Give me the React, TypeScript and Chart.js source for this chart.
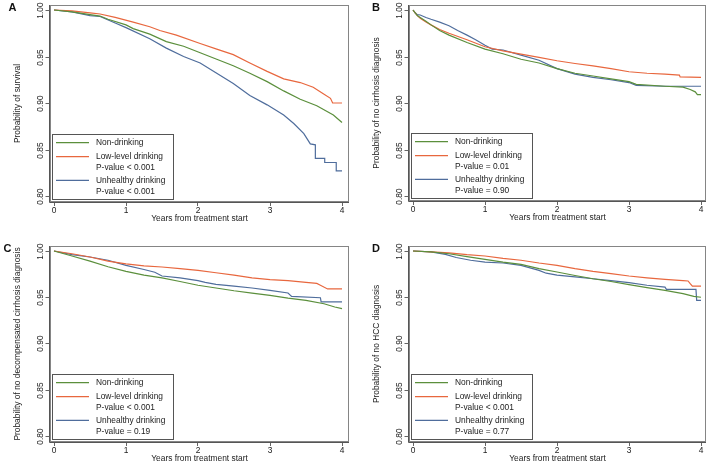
import React, { useEffect, useRef } from "react";
import { Chart, registerables } from "chart.js";
Chart.register(...registerables);

type Pt = [number, number];

const groupNames = ["Non-drinking", "Low-level drinking", "Unhealthy drinking"];
const groupColors = ["#5b8f3c", "#e8673e", "#4f6d9c"];
const xTickValues = [0, 1, 2, 3, 4];
const yTickValues = [0.8, 0.85, 0.9, 0.95, 1.0];
const yTickLabels = ["0.80", "0.85", "0.90", "0.95", "1.00"];
const xTitle = "Years from treatment start";
const panelLetters = ["A", "B", "C", "D"];
const yTitles = [
  "Probability of survival",
  "Probability of no cirrhosis diagnosis",
  "Probability of no decompensated cirrhosis diagnosis",
  "Probability of no HCC diagnosis",
];
const lowPValues = ["P-value < 0.001", "P-value = 0.01", "P-value < 0.001", "P-value < 0.001"];
const unhPValues = ["P-value < 0.001", "P-value = 0.90", "P-value = 0.19", "P-value = 0.77"];

// Panel A: survival
const survA_non: Pt[] = [[0,1],[0.25,0.998],[0.5,0.995],[0.64,0.9935],[0.75,0.99],[1,0.984],[1.1,0.98],[1.33,0.974],[1.56,0.966],[1.8,0.961],[2.03,0.954],[2.26,0.947],[2.49,0.94],[2.72,0.932],[2.96,0.923],[3.19,0.913],[3.42,0.904],[3.65,0.897],[3.88,0.887],[4,0.879]];
const survA_low: Pt[] = [[0,1],[0.25,0.999],[0.5,0.997],[0.64,0.9957],[0.85,0.992],[1.1,0.987],[1.33,0.982],[1.47,0.978],[1.7,0.973],[2.03,0.964],[2.26,0.958],[2.49,0.952],[2.72,0.943],[2.96,0.934],[3.19,0.926],[3.42,0.922],[3.6,0.917],[3.74,0.91],[3.84,0.905],[3.87,0.9],[4,0.9]];
const survA_unh: Pt[] = [[0,1],[0.25,0.998],[0.5,0.994],[0.64,0.993],[0.85,0.986],[1,0.981],[1.33,0.969],[1.56,0.959],[1.8,0.95],[2.03,0.943],[2.26,0.932],[2.49,0.921],[2.72,0.908],[2.96,0.898],[3.19,0.887],[3.33,0.878],[3.47,0.867],[3.56,0.856],[3.63,0.855],[3.63,0.8405],[3.76,0.8405],[3.76,0.836],[3.92,0.836],[3.92,0.827],[4,0.827]];

// Panel B: no cirrhosis diagnosis
const survB_non: Pt[] = [[0,1],[0.03,0.997],[0.06,0.994],[0.1,0.992],[0.18,0.988],[0.25,0.984],[0.37,0.978],[0.5,0.973],[0.75,0.965],[1,0.958],[1.25,0.953],[1.5,0.947],[1.75,0.943],[2,0.937],[2.25,0.932],[2.5,0.929],[2.75,0.926],[3,0.923],[3.1,0.92],[3.5,0.918],[3.75,0.917],[3.85,0.9145],[3.92,0.912],[3.95,0.909],[4,0.909]];
const survB_low: Pt[] = [[0,1],[0.03,0.997],[0.06,0.994],[0.1,0.991],[0.18,0.987],[0.25,0.984],[0.37,0.979],[0.5,0.975],[0.75,0.968],[1,0.9605],[1.25,0.956],[1.5,0.9526],[1.75,0.949],[2,0.9454],[2.25,0.9425],[2.5,0.94],[2.75,0.937],[3,0.9336],[3.25,0.932],[3.5,0.931],[3.7,0.93],[3.71,0.928],[4,0.9275]];
const survB_unh: Pt[] = [[0,1],[0.03,0.997],[0.06,0.995],[0.1,0.9946],[0.18,0.992],[0.25,0.99],[0.37,0.987],[0.5,0.983],[0.62,0.978],[0.75,0.973],[0.87,0.968],[1,0.962],[1.1,0.958],[1.25,0.957],[1.5,0.9515],[1.75,0.946],[2,0.937],[2.25,0.931],[2.5,0.9275],[2.75,0.925],[3,0.922],[3.1,0.919],[3.5,0.918],[4,0.918]];

// Panel C: no decompensated cirrhosis diagnosis
const survC_non: Pt[] = [[0,1],[0.25,0.9946],[0.5,0.989],[0.75,0.983],[1,0.978],[1.25,0.974],[1.5,0.971],[1.75,0.967],[2,0.963],[2.25,0.96],[2.5,0.957],[2.75,0.9545],[3,0.952],[3.25,0.949],[3.5,0.9467],[3.75,0.943],[3.9,0.9395],[4,0.9377]];
const survC_low: Pt[] = [[0,1],[0.25,0.997],[0.5,0.9935],[0.75,0.989],[1,0.986],[1.25,0.984],[1.5,0.9827],[1.75,0.981],[2,0.979],[2.25,0.9765],[2.5,0.974],[2.75,0.971],[3,0.969],[3.25,0.968],[3.5,0.966],[3.65,0.965],[3.7,0.963],[3.8,0.959],[4,0.959]];
const survC_unh: Pt[] = [[0,1],[0.25,0.996],[0.5,0.9935],[0.75,0.99],[1,0.9845],[1.25,0.98],[1.4,0.977],[1.5,0.973],[1.75,0.971],[2,0.968],[2.1,0.966],[2.25,0.964],[2.5,0.962],[2.75,0.96],[3,0.9575],[3.25,0.9546],[3.3,0.951],[3.7,0.9495],[3.71,0.945],[4,0.945]];

// Panel D: no HCC diagnosis
const survD_non: Pt[] = [[0,1],[0.25,0.999],[0.5,0.997],[0.75,0.994],[1,0.991],[1.25,0.988],[1.5,0.9856],[1.75,0.981],[2,0.9773],[2.25,0.9735],[2.5,0.97],[2.75,0.967],[3,0.9636],[3.25,0.9605],[3.5,0.9575],[3.75,0.954],[3.9,0.951],[4,0.95]];
const survD_low: Pt[] = [[0,1],[0.25,0.999],[0.5,0.998],[0.75,0.996],[1,0.9946],[1.25,0.992],[1.5,0.99],[1.75,0.987],[2,0.9845],[2.25,0.981],[2.5,0.978],[2.75,0.9755],[3,0.973],[3.25,0.971],[3.5,0.9694],[3.75,0.968],[3.82,0.9676],[3.85,0.9647],[3.88,0.962],[4,0.962]];
const survD_unh: Pt[] = [[0,1],[0.25,0.999],[0.45,0.9964],[0.6,0.993],[0.8,0.99],[1,0.988],[1.25,0.987],[1.5,0.9845],[1.75,0.979],[1.85,0.976],[2,0.974],[2.25,0.972],[2.5,0.97],[2.75,0.968],[3,0.9658],[3.25,0.963],[3.5,0.961],[3.52,0.9585],[3.93,0.9585],[3.94,0.9467],[4,0.9467]];

const panelSeries: Pt[][][] = [
  [survA_non, survA_low, survA_unh],
  [survB_non, survB_low, survB_unh],
  [survC_non, survC_low, survC_unh],
  [survD_non, survD_low, survD_unh],
];

// layout geometry (pixels within each panel canvas)
type Geom = {
  left: number; top: number; W: number; H: number;
  L: number; R: number; T: number; B: number;
  x0: number; x4: number; y100: number; y80: number;
  letterX: number; letterY: number;
};
const geoms: Geom[] = [
  { left: 0, top: 0, W: 354, H: 232, L: 50, R: 349, T: 5, B: 202, x0: 54, x4: 342, y100: 10, y80: 196, letterX: 8.5, letterY: 7.5 },
  { left: 354, top: 0, W: 355, H: 232, L: 55, R: 352, T: 5, B: 201, x0: 59, x4: 347, y100: 10, y80: 196, letterX: 18, letterY: 7.5 },
  { left: 0, top: 232, W: 354, H: 233, L: 50, R: 349, T: 14, B: 210, x0: 54, x4: 342, y100: 19, y80: 204, letterX: 3.5, letterY: 17 },
  { left: 354, top: 232, W: 355, H: 233, L: 55, R: 352, T: 14, B: 210, x0: 59, x4: 347, y100: 19, y80: 204, letterX: 18, letterY: 17 },
];

const FONT = '"Liberation Sans", Arial, Helvetica, sans-serif';
const FS = 8.4;

function Panel({ idx }: { idx: number }) {
  const ref = useRef<HTMLCanvasElement>(null);
  const g = geoms[idx];
  useEffect(() => {
    if (!ref.current) return;
    const pxPerX = (g.x4 - g.x0) / 4;
    const xMin = -(g.x0 - g.L) / pxPerX;
    const xMax = 4 + (g.R - g.x4) / pxPerX;
    const pxPerY = (g.y80 - g.y100) / 0.2;
    const yMax = 1 + (g.y100 - g.T) / pxPerY;
    const yMin = 0.8 - (g.B - g.y80) / pxPerY;

    const decor = {
      id: "decor" + idx,
      afterDraw(chart: any) {
        const { ctx, chartArea } = chart;
        const { left, right, top, bottom } = chartArea;
        const ys = chart.scales.y;
        ctx.save();
        // frame
        ctx.strokeStyle = "#858585";
        ctx.lineWidth = 1;
        ctx.strokeRect(left + 0.5, top + 0.5, right - left - 1, bottom - top - 1);
        ctx.strokeStyle = "#555";
        ctx.beginPath();
        ctx.moveTo(left - 0.5, top);
        ctx.lineTo(left - 0.5, bottom + 0.5);
        ctx.lineTo(right, bottom + 0.5);
        ctx.stroke();
        // y ticks + rotated labels
        ctx.fillStyle = "#222";
        ctx.font = `${FS}px ${FONT}`;
        ctx.textAlign = "center";
        ctx.textBaseline = "middle";
        yTickValues.forEach((v, i) => {
          const py = Math.round(ys.getPixelForValue(v)) + 0.5;
          ctx.strokeStyle = "#666";
          ctx.beginPath();
          ctx.moveTo(left - 4.5, py);
          ctx.lineTo(left - 0.5, py);
          ctx.stroke();
          ctx.save();
          ctx.translate(left - 9, py);
          ctx.rotate(-Math.PI / 2);
          ctx.fillText(yTickLabels[i], 0, 0);
          ctx.restore();
        });
        // y title
        ctx.save();
        ctx.translate(left - 32, (top + bottom) / 2);
        ctx.rotate(-Math.PI / 2);
        ctx.fillText(yTitles[idx], 0, 0);
        ctx.restore();
        // x title
        ctx.fillText(xTitle, (left + right) / 2, bottom + 17);
        // panel letter
        ctx.font = `bold 11px ${FONT}`;
        ctx.textAlign = "left";
        ctx.fillStyle = "#111";
        ctx.fillText(panelLetters[idx], g.letterX, g.letterY);
        // legend box
        const bx = left + 2, by = bottom - 68, bw = 121, bh = 65;
        ctx.fillStyle = "#fff";
        ctx.fillRect(bx, by, bw, bh);
        ctx.strokeStyle = "#555";
        ctx.strokeRect(bx + 0.5, by + 0.5, bw, bh);
        const rows: [number, string, number][] = [
          [8.7, groupNames[0], 0],
          [22.7, groupNames[1], 1],
          [34, lowPValues[idx], -1],
          [46.3, groupNames[2], 2],
          [57.7, unhPValues[idx], -1],
        ];
        ctx.font = `${FS}px ${FONT}`;
        rows.forEach(([dy, label, ci]) => {
          const yy = by + dy;
          if (ci >= 0) {
            ctx.strokeStyle = groupColors[ci];
            ctx.lineWidth = 1.2;
            ctx.beginPath();
            ctx.moveTo(bx + 4, yy);
            ctx.lineTo(bx + 37, yy);
            ctx.stroke();
          }
          ctx.fillStyle = "#222";
          ctx.fillText(label, bx + 44, yy);
        });
        ctx.restore();
      },
    };

    const chart = new Chart(ref.current, {
      type: "line",
      data: {
        datasets: panelSeries[idx].map((s, i) => ({
          label: groupNames[i],
          data: s.map(([t, v]) => ({ x: t, y: v })),
          borderColor: groupColors[i],
          borderWidth: 1.2,
          pointRadius: 0,
          tension: 0,
          fill: false,
        })),
      },
      options: {
        animation: false,
        responsive: false,
        maintainAspectRatio: false,
        layout: { padding: { left: 0, top: g.T, right: g.W - g.R, bottom: 0 } },
        plugins: { legend: { display: false }, tooltip: { enabled: false } },
        scales: {
          x: {
            type: "linear",
            min: xMin,
            max: xMax,
            afterBuildTicks: (s: any) => { s.ticks = xTickValues.map((v) => ({ value: v })); },
            afterFit: (s: any) => { s.height = g.H - g.B; },
            grid: { drawOnChartArea: false, drawTicks: true, tickLength: 4, color: "#666" },
            border: { display: false },
            ticks: { font: { family: FONT, size: FS }, color: "#222", padding: 0, maxRotation: 0, autoSkip: false, callback: (v: any) => String(v) },
          },
          y: {
            type: "linear",
            min: yMin,
            max: yMax,
            afterBuildTicks: (s: any) => { s.ticks = yTickValues.map((v) => ({ value: v })); },
            afterFit: (s: any) => { s.width = g.L; },
            grid: { display: false },
            border: { display: false },
            ticks: { display: false },
          },
        },
      },
      plugins: [decor],
    } as any);
    return () => chart.destroy();
  }, []);
  return (
    <canvas
      ref={ref}
      width={g.W}
      height={g.H}
      style={{ position: "absolute", left: g.left, top: g.top, width: g.W, height: g.H }}
    />
  );
}

export default function App() {
  return (
    <div style={{ position: "fixed", left: 0, top: 0, width: 709, height: 465, background: "#fff" }}>
      {[0, 1, 2, 3].map((i) => (
        <Panel key={i} idx={i} />
      ))}
    </div>
  );
}
